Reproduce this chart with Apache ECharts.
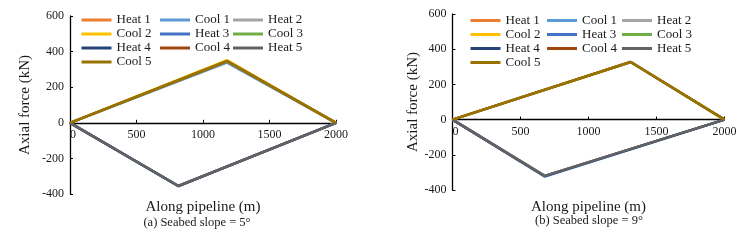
<!DOCTYPE html>
<html>
<head>
<meta charset="utf-8">
<script src="https://cdn.jsdelivr.net/npm/echarts@6/dist/echarts.min.js"></script>
<style>
  html, body { margin: 0; padding: 0; background: #fff; }
  #chart { width: 748px; height: 242px; }
</style>
</head>
<body>
<div id="chart"></div>
<script>
// series order as in the legend (Excel palette)
var seriesNames = ['Heat 1', 'Cool 1', 'Heat 2', 'Cool 2', 'Heat 3', 'Cool 3', 'Heat 4', 'Cool 4', 'Heat 5', 'Cool 5'];
var seriesColors = ['#ED7D31', '#5B9BD5', '#A5A5A5', '#FFC000', '#4472C4', '#70AD47', '#264478', '#9E480E', '#636363', '#997300'];

// (a) slope 5 deg
var slope5HeatX = [0, 815, 2000];
var slope5CoolX = [0, 1180, 2000];
var slope5Heat = [          // Heat 1..5
    [0, -355, 0],
    [0, -354, 0],
    [0, -356, 0],
    [0, -355, 0],
    [0, -355, 0]
];
var slope5Cool = [          // Cool 1..5
    [0, 338, 0],
    [0, 352, 0],
    [0, 346, 0],
    [0, 346, 0],
    [0, 346, 0]
];

// (b) slope 9 deg
var slope9HeatX = [0, 678, 2000];
var slope9CoolX = [0, 1310, 2000];
var slope9Heat = [
    [0, -320, 0],
    [0, -320, 0],
    [0, -323, 0],
    [0, -321, 0],
    [0, -320, 0]
];
var slope9Cool = [
    [0, 327, 0],
    [0, 327, 0],
    [0, 327, 0],
    [0, 327, 0],
    [0, 327, 0]
];

var xTicks = {min: 0, max: 2000, interval: 500};
var yTicks = {min: -400, max: 600, interval: 200};

var legendCols = [
    ['Heat 1', 'Cool 2', 'Heat 4', 'Cool 5'],
    ['Cool 1', 'Heat 3', 'Cool 4'],
    ['Heat 2', 'Cool 3', 'Heat 5']
];

var FONT = '"Liberation Serif", "Times New Roman", serif';
var INK = '#1a1a1a';

var grids = [
    {left: 70, top: 16, width: 266, height: 178},
    {left: 452.5, top: 14, width: 272, height: 176}
];

function pairs(xs, ys) {
    return xs.map(function (x, i) { return [x, ys[i]]; });
}

function buildSeries(gridIdx, heatX, heat, coolX, cool) {
    var out = [];
    seriesNames.forEach(function (name, i) {
        var k = Math.floor(i / 2);
        var isHeat = i % 2 === 0;
        out.push({
            name: name,
            type: 'line',
            xAxisIndex: gridIdx,
            yAxisIndex: gridIdx,
            symbol: 'none',
            silent: true,
            animation: false,
            lineStyle: {width: 2.5, color: seriesColors[i]},
            itemStyle: {color: seriesColors[i]},
            data: isHeat ? pairs(heatX, heat[k]) : pairs(coolX, cool[k])
        });
    });
    return out;
}

// x axis drawn along y = 0: shift it up from the grid bottom
function xAxisOf(gridIdx, gap) {
    var g = grids[gridIdx];
    var zeroFromBottom = g.height * (0 - yTicks.min) / (yTicks.max - yTicks.min);
    return {
        type: 'value',
        gridIndex: gridIdx,
        min: xTicks.min, max: xTicks.max, interval: xTicks.interval,
        position: 'bottom',
        offset: -zeroFromBottom,
        name: 'Along pipeline (m)',
        nameLocation: 'middle',
        nameGap: gap,
        nameTextStyle: {fontFamily: FONT, fontSize: 15, color: INK},
        axisLine: {onZero: false, lineStyle: {color: '#000', width: 1.3}},
        axisTick: {inside: true, length: 3, lineStyle: {color: '#000'}},
        axisLabel: {
            fontFamily: FONT, fontSize: 12, color: INK, margin: 6, alignMinLabel: 'left',
            formatter: function (v) { return String(v); }
        },
        splitLine: {show: false}
    };
}

function yAxisOf(gridIdx, gap) {
    return {
        type: 'value',
        gridIndex: gridIdx,
        min: yTicks.min, max: yTicks.max, interval: yTicks.interval,
        name: 'Axial force (kN)',
        nameLocation: 'middle',
        nameGap: gap,
        nameTextStyle: {fontFamily: FONT, fontSize: 15, color: INK},
        axisLine: {show: true, onZero: false, lineStyle: {color: '#000', width: 1.3}},
        axisTick: {show: true, inside: true, length: 3, lineStyle: {color: '#000'}},
        axisLabel: {fontFamily: FONT, fontSize: 12, color: INK, margin: 6},
        splitLine: {show: false}
    };
}

function legendsAt(xs, top) {
    return legendCols.map(function (names, c) {
        return {
            orient: 'vertical',
            left: xs[c],
            top: top,
            padding: 0,
            icon: 'rect',
            itemWidth: 30,
            itemHeight: 3,
            itemGap: 0,
            selectedMode: false,
            data: names,
            textStyle: {fontFamily: FONT, fontSize: 13, color: INK, lineHeight: 14}
        };
    });
}

var chart = echarts.init(document.getElementById('chart'), null, {renderer: 'canvas'});

var option = {
    backgroundColor: '#fff',
    animation: false,
    grid: grids.map(function (g) {
        return Object.assign({containLabel: false, outerBoundsMode: 'none'}, g);
    }),
    xAxis: [xAxisOf(0, 77), xAxisOf(1, 80)],
    yAxis: [yAxisOf(0, 37), yAxisOf(1, 31)],
    legend: legendsAt([81.5, 160, 233], 13).concat(legendsAt([470.5, 547, 622], 13.5)),
    graphic: [
        {type: 'text', x: 197, y: 223, style: {text: '(a) Seabed slope = 5°', font: '12.5px ' + FONT, fill: INK, textAlign: 'center', textVerticalAlign: 'middle'}},
        {type: 'text', x: 589, y: 221, style: {text: '(b) Seabed slope = 9°', font: '12.5px ' + FONT, fill: INK, textAlign: 'center', textVerticalAlign: 'middle'}}
    ],
    series: buildSeries(0, slope5HeatX, slope5Heat, slope5CoolX, slope5Cool)
        .concat(buildSeries(1, slope9HeatX, slope9Heat, slope9CoolX, slope9Cool))
};

chart.setOption(option);
</script>
</body>
</html>
